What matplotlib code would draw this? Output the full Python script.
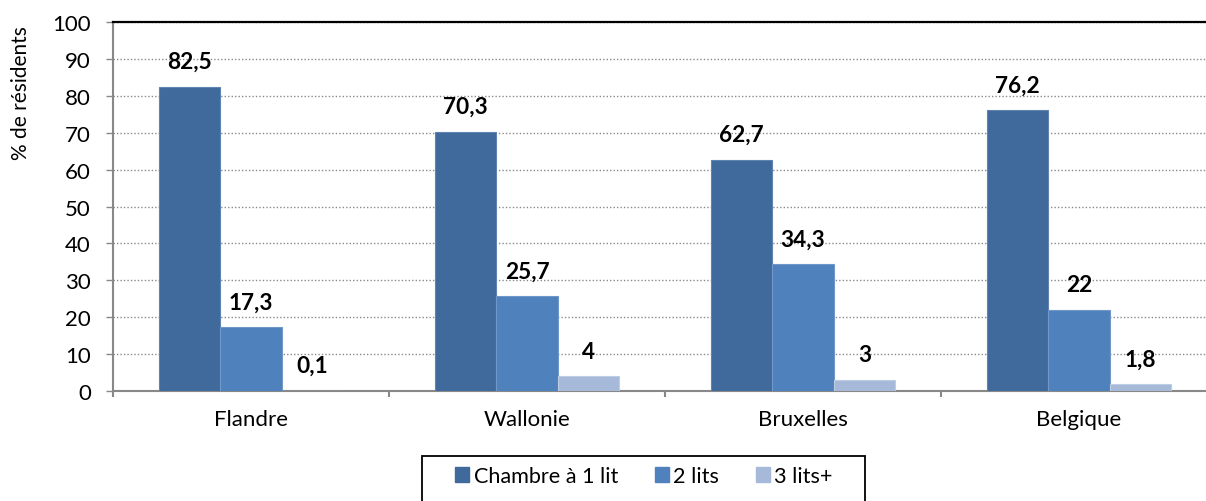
import matplotlib
matplotlib.use("Agg")
import matplotlib.pyplot as plt
from matplotlib.patches import Patch, Rectangle
import numpy as np

plt.rcParams['font.family'] = ['Lato', 'DejaVu Sans']

regions = ["Flandre", "Wallonie", "Bruxelles", "Belgique"]
series_names = ["Chambre à 1 lit", "2 lits", "3 lits+"]
single_room = [82.5, 70.3, 62.7, 76.2]
double_room = [17.3, 25.7, 34.3, 22.0]
triple_plus = [0.1, 4.0, 3.0, 1.8]
value_labels = [
    ["82,5", "70,3", "62,7", "76,2"],
    ["17,3", "25,7", "34,3", "22"],
    ["0,1", "4", "3", "1,8"],
]
colors = ["#406A9B", "#4F81BD", "#A7B9D9"]
edge_colors = ["#5F84B0", "#7097C8", "#BFCDE4"]
y_ticks = list(range(0, 101, 10))

W, H = 1206, 502
fig = plt.figure(figsize=(W / 100, H / 100), dpi=100)
ax = fig.add_axes([113 / W, 110 / H, 1104 / W, 369 / H])

centers = np.arange(len(regions)) + 0.5
width = 0.223
series = [single_room, double_room, triple_plus]
for i, (vals, col, ec) in enumerate(zip(series, colors, edge_colors)):
    xs = centers + (i - 1) * width
    ax.bar(xs, vals, width=width, color=col, edgecolor=ec, linewidth=0.8, zorder=3)
    for x, v, lab in zip(xs, vals, value_labels[i]):
        ax.annotate(lab, (x, v), xytext=(0, 18), textcoords="offset points",
                    ha="center", va="center", fontsize=16.3, fontweight="bold",
                    color="black", zorder=4)

ax.set_xlim(0, len(regions))
ax.set_ylim(0, 100)
ax.set_yticks(y_ticks)
ax.set_yticklabels([str(t) for t in y_ticks])

# Category boundaries as tick marks, category names centred between them
ax.set_xticks(np.arange(len(regions) + 1))
ax.set_xticklabels([])
ax.set_xticks(centers, minor=True)
ax.set_xticklabels(regions, minor=True)
ax.tick_params(axis="x", which="major", direction="out", length=4.5, width=1.5,
               color="#888888")
ax.tick_params(axis="x", which="minor", length=0, pad=13, labelsize=16)
ax.tick_params(axis="y", direction="out", length=5, width=1, color="#888888",
               pad=11, labelsize=16)

ax.yaxis.grid(True, linestyle=(0, (1, 1.5)), color="#8a8a8a", linewidth=1, zorder=0)
ax.set_axisbelow(True)

ax.spines["right"].set_visible(False)
ax.spines["top"].set_color("black")
ax.spines["top"].set_linewidth(1.6)
ax.spines["left"].set_color("#888888")
ax.spines["left"].set_linewidth(1.5)
ax.spines["bottom"].set_color("#888888")
ax.spines["bottom"].set_linewidth(1.5)

fig.text(21 / W, 1 - 93 / H, "% de résidents", rotation=90, ha="center",
         va="center", fontsize=15)

# Legend in a framed box below the chart
frame = Rectangle((422 / W, -0.1), (865 - 422) / W, (H - 457) / H + 0.1,
                  transform=fig.transFigure, fill=False, edgecolor="black",
                  linewidth=1.3)
fig.patches.append(frame)
handles = [Patch(facecolor=c, edgecolor=c) for c in colors]
fig.legend(handles, series_names, loc="center", bbox_to_anchor=(644 / W, 1 - 477 / H),
           ncol=3, frameon=False, fontsize=15.6, handlelength=0.65,
           handleheight=0.65, handletextpad=0.2, columnspacing=1.7)

fig.savefig("out.png", dpi=100)
